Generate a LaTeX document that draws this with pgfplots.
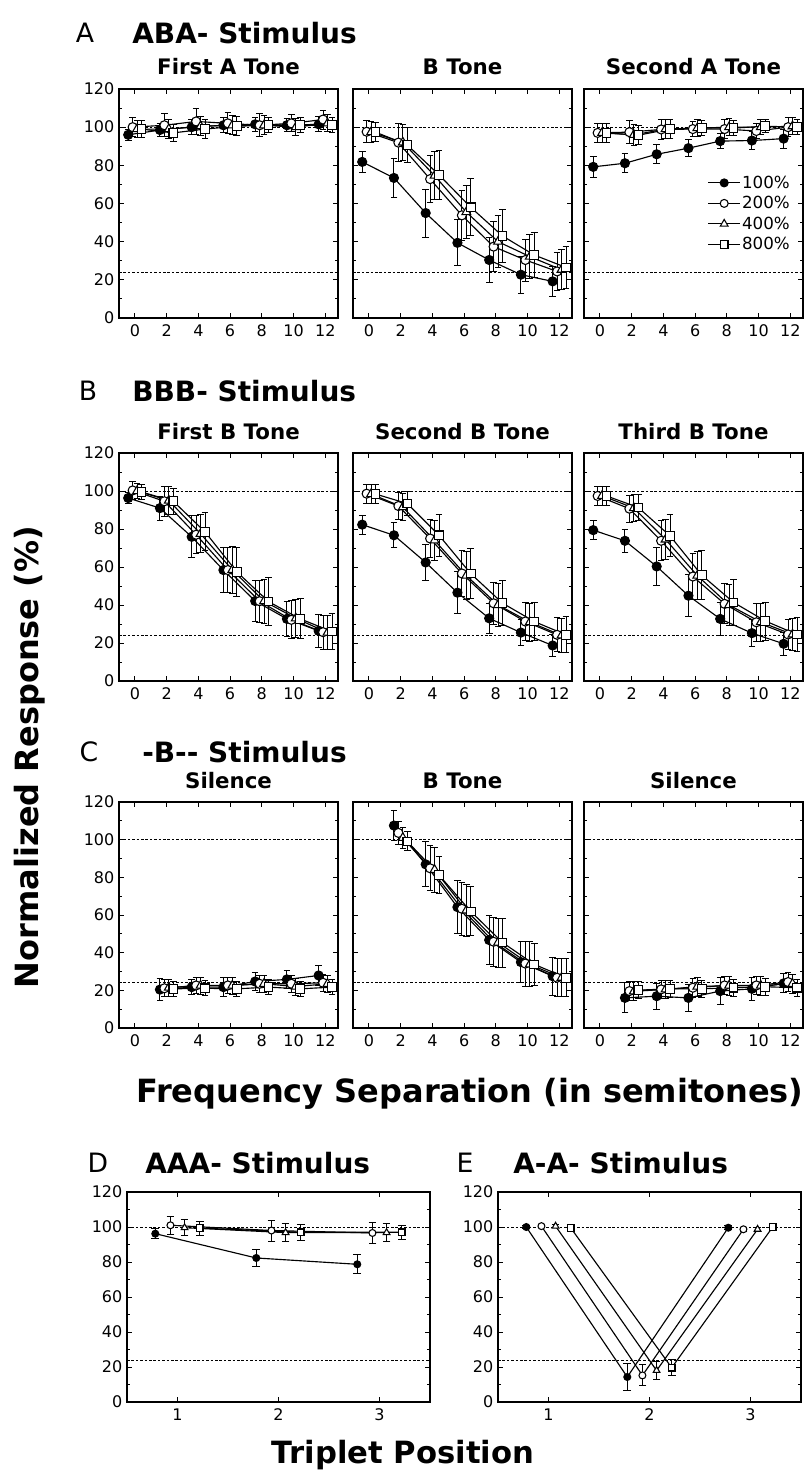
\documentclass[border=0pt]{standalone}
\usepackage{fontspec}
\setmainfont{DejaVu Sans}
\usepackage{pgfplots}
\pgfplotsset{compat=1.18}
\usepackage{pgfplotstable}

\pgfplotstableread{
x a ea b eb c ec d ed
0 96 3 100 5 99 4.5 99 4.5
2 98.5 3.5 101 6 99 5 97 4.5
4 100 4 103 7 100.5 5 99 5
6 101 4 102 5.5 101 5 100.5 5
8 101.5 3.5 101 6 101 5 101 4
10 101 3.5 102 4.5 100 4.5 101 4
12 101.5 4 104 5 102 4.5 101 4
}\tAa
\pgfplotstableread{
x a ea b eb c ec d ed
0 81.8 5.5 97.6 5.8 97.4 5.5 97.4 5
2 73.4 10 91.9 10 92 9.5 90.7 9
4 55 12.6 72.8 12.5 74.6 12.5 75 13
6 39.4 12 53.8 13 55.5 14 58 15
8 30.4 11.7 37.4 13 40 13.5 43 14
10 22.7 9.8 30.4 11 32.2 11.5 33 12
12 19.2 8 24.4 10 25.3 10.5 26.5 11
}\tAb
\pgfplotstableread{
x a ea b eb c ec d ed
0 79.2 5.5 97 5 97 5 97 5
2 81.1 5 97.4 6 96 5.5 95.8 5
4 85.8 5 98.8 5 99 5 99 5
6 89 4.5 99 4 99.5 4.5 99.5 4
8 92.7 4 99 5 100 4.5 99.5 4
10 93 4.5 98 4 100 4 100.5 3.5
12 94 5 100 5 100.5 4.5 100 4
}\tAc
\pgfplotstableread{
x a ea b eb c ec d ed
0 96.3 3 100.3 4.5 100 4 99.5 4
2 91 6.3 94.6 8 95 7.5 94.6 7
4 75.9 11 77 10 77.5 10 78.5 10
6 58.4 11.8 58.4 12 58.5 12.5 57.5 13
8 42.1 11 42 11 42 11.5 41.8 12.5
10 32.7 9 32.2 10 33 10 32.7 10.5
12 26.4 8.5 25.7 9 25.5 9 26 9.5
}\tBa
\pgfplotstableread{
x a ea b eb c ec d ed
0 82.3 5 98.6 5 98.4 5 98.4 5
2 76.7 6.5 92.1 7 91.5 7 93.4 6.5
4 62.4 9.5 75 10 74 10.5 76.7 11
6 46.5 11 56.6 12 55.5 12.5 56.5 13
8 33 8 40.9 11 40 11.5 41 12
10 25.5 7 31.3 10 31 10 31.3 10
12 18.7 6 24.3 9 24 9 24.3 9.5
}\tBb
\pgfplotstableread{
x a ea b eb c ec d ed
0 79.4 5 97.4 5 97.5 5 97.4 5
2 73.8 6 90.7 7 91 7 91.3 7
4 60.3 10 73.8 10.5 74.5 10.5 76.4 11
6 44.9 11 55 12 55.5 12.5 55.7 13
8 32.7 8.5 40.6 10.5 40 11 41.4 12
10 25.2 7 30.9 10 31 10 31.6 10
12 19.6 6 24.5 8 24.5 8.5 24.5 9
}\tBc
\pgfplotstableread{
x a ea b eb c ec d ed
2 20.4 5.8 21.1 4.5 21.5 4.5 20.8 4
4 21.7 4 22.6 4.5 22.5 4.5 21.1 4
6 21.7 5 22.6 4.5 22.5 4.5 20.8 4
8 24.7 5 23.5 4.5 23.5 4.5 21.7 4
10 25.8 5 23.5 4.5 22 4.5 20.8 4
12 27.9 5.5 24 4.5 23.5 4.5 21.7 4
}\tCa
\pgfplotstableread{
x a ea b eb c ec d ed
2 107.5 8 103.6 6 101 5.5 99.1 5
4 86.9 12 84.8 12 84 12 81.2 10
6 64.2 14 63.3 14 62.4 14 61.9 13
8 46.7 13 45.8 13 45.4 13 45.4 13
10 35 11 34.2 12 33.8 12 33.8 11
12 27.5 10 26.7 10 26.7 10 26.7 10
}\tCb
\pgfplotstableread{
x a ea b eb c ec d ed
2 16 8 19.6 5 19.5 5 20.1 4.5
4 16.9 7 20.5 5 20.5 5 20.8 4.5
6 16 7 21.4 5 22 5 20.8 4.5
8 19.6 7 22.6 5 22.5 5 21.4 4.5
10 20.8 6 22.6 5 22.5 5 21.9 4.5
12 23.7 5 24.4 5 23.5 5 21.4 4.5
}\tCc
\pgfplotstableread{
x a ea b eb c ec d ed
1 96.2 3 101 5 99.6 4.5 99.4 4
2 82.3 5 98 6 96.8 5 97 4.5
3 78.7 5.4 96.6 6 96.8 5 97 4
}\tD
\pgfplotstableread{
x a ea b eb c ec d ed
1 100 1 100.5 1 100.5 1 99.5 1
2 14.3 7.7 15.2 6 18 5 19.6 4.5
3 99.6 1 98.7 1 98.7 1 100 1
}\tE

\pgfplotsset{
  base/.style={scale only axis, ymin=0, ymax=120, ytick={0,20,...,120},
    minor y tick num=1, tick align=inside, xtick pos=both, ytick pos=both,
    major tick length=4pt, minor tick length=2.3pt,
    axis line style={line width=0.9pt},
    every tick/.style={line width=0.65pt, black},
    tick label style={font=\fontsize{12}{14}\selectfont},
    xticklabel style={yshift=-1.5pt},
    /pgf/number format/assume math mode=true},
  semi/.style={base, width=164.25pt, xmin=-1, xmax=12.8, xtick={0,2,...,12}},
  trip/.style={base, width=227.25pt, height=157.5pt, xmin=0.5, xmax=3.5, xtick={1,2,3}},
  noy/.style={yticklabels={}},
  sbase/.style={black, line width=0.85pt, solid, forget plot},
  s1/.style={sbase, mark=*, mark options={solid, fill=black, line width=0.8pt}},
  s2/.style={sbase, mark=*, mark options={solid, fill=white, line width=0.8pt}},
  s3/.style={sbase, mark=triangle*, mark options={solid, fill=white, scale=1.12, line width=0.8pt}},
  s4/.style={sbase, mark=square*, mark options={solid, fill=white, scale=0.95, line width=0.8pt}},
  eb/.style={error bars/y dir=both, error bars/y explicit,
    error bars/error bar style={line width=0.7pt, solid},
    error bars/error mark options={rotate=90, line width=0.7pt, mark size=#1}},
  legend image code/.code={\draw[mark repeat=2,mark phase=2,#1]
    plot coordinates {(0pt,0pt)(12pt,0pt)(24pt,0pt)};},
}

\newcommand{\fourser}[7]{%
  \addplot[s1, mark size=#6, eb=#7] table[x expr=\thisrow{x}+#2, y=a, y error=ea]{#1};
  \addplot[s2, mark size=#6, eb=#7] table[x expr=\thisrow{x}+#3, y=b, y error=eb]{#1};
  \addplot[s3, mark size=#6, eb=#7] table[x expr=\thisrow{x}+#4, y=c, y error=ec]{#1};
  \addplot[s4, mark size=#6, eb=#7] table[x expr=\thisrow{x}+#5, y=d, y error=ed]{#1};
}
\newcommand{\dashref}[2]{%
  \addplot[forget plot, black, line width=0.5pt, dash pattern=on 2pt off 1.3pt] coordinates {(#1,100) (#2,100)};
  \addplot[forget plot, black, line width=0.5pt, dash pattern=on 2pt off 1.3pt] coordinates {(#1,24) (#2,24)};
}
\newcommand{\semiset}[1]{\dashref{-1}{12.8}\fourser{#1}{-0.42}{-0.14}{0.14}{0.42}{3.4pt}{2.5pt}}
\newcommand{\tripset}[1]{\dashref{0.5}{3.5}\fourser{#1}{-0.22}{-0.07}{0.07}{0.22}{2.6pt}{2.9pt}}

\begin{document}
\begin{tikzpicture}
\path[use as bounding box] (0,0) rectangle (603.75pt,-1108.5pt);

% Row A
\begin{axis}[semi, height=171.75pt, at={(89.25pt,-238.5pt)}, anchor=south west]
\semiset{\tAa}
\end{axis}
\begin{axis}[semi, noy, height=171.75pt, at={(264.75pt,-238.5pt)}, anchor=south west]
\semiset{\tAb}
\end{axis}
\begin{axis}[semi, noy, height=171.75pt, at={(438pt,-238.5pt)}, anchor=south west,
  legend style={draw=none, fill=none, at={(0.545,0.64)}, anchor=north west,
    font=\fontsize{12.5}{13}\selectfont, row sep=2.6pt,
    nodes={inner sep=1pt}},
  legend cell align=left]
\semiset{\tAc}
\addlegendimage{s1, mark size=3pt}
\addlegendimage{s2, mark size=3pt}
\addlegendimage{s3, mark size=3pt}
\addlegendimage{s4, mark size=3pt}
\legend{100\%,200\%,400\%,800\%}
\end{axis}

% Row B
\begin{axis}[semi, height=171pt, at={(89.25pt,-510.75pt)}, anchor=south west]
\semiset{\tBa}
\end{axis}
\begin{axis}[semi, noy, height=171pt, at={(264.75pt,-510.75pt)}, anchor=south west]
\semiset{\tBb}
\end{axis}
\begin{axis}[semi, noy, height=171pt, at={(438pt,-510.75pt)}, anchor=south west]
\semiset{\tBc}
\end{axis}

% Row C
\begin{axis}[semi, height=169.5pt, at={(89.25pt,-771pt)}, anchor=south west]
\semiset{\tCa}
\end{axis}
\begin{axis}[semi, noy, height=169.5pt, at={(264.75pt,-771pt)}, anchor=south west]
\semiset{\tCb}
\end{axis}
\begin{axis}[semi, noy, height=169.5pt, at={(438pt,-771pt)}, anchor=south west]
\semiset{\tCc}
\end{axis}

% Row D / E
\begin{axis}[trip, at={(95.25pt,-1051.5pt)}, anchor=south west]
\tripset{\tD}
\end{axis}
\begin{axis}[trip, at={(373.5pt,-1051.5pt)}, anchor=south west]
\tripset{\tE}
\end{axis}

% Texts
\tikzset{lett/.style={inner sep=0pt, font=\fontsize{20}{22}\selectfont},
  ttl/.style={inner sep=0pt, anchor=west, font=\bfseries\fontsize{21}{23}\selectfont},
  sub/.style={inner sep=0pt, font=\bfseries\fontsize{16}{18}\selectfont},
  big/.style={inner sep=0pt, font=\bfseries\fontsize{24}{26}\selectfont}}

\node[lett] at (63.75pt,-24.75pt) {A};
\node[ttl] at (99pt,-24.75pt) {ABA- Stimulus};
\node[sub] at (171.4pt,-50.25pt) {First A Tone};
\node[sub] at (346.9pt,-50.25pt) {B Tone};
\node[sub] at (520.1pt,-50.25pt) {Second A Tone};

\node[lett] at (66pt,-293.25pt) {B};
\node[ttl] at (99pt,-293.25pt) {BBB- Stimulus};
\node[sub] at (171.4pt,-324pt) {First B Tone};
\node[sub] at (346.9pt,-324pt) {Second B Tone};
\node[sub] at (520.1pt,-324pt) {Third B Tone};

\node[lett] at (66.75pt,-564pt) {C};
\node[ttl] at (106.5pt,-564pt) {-B{-}{-} Stimulus};
\node[sub] at (171.4pt,-585.75pt) {Silence};
\node[sub] at (346.9pt,-585.75pt) {B Tone};
\node[sub] at (520.1pt,-585.75pt) {Silence};

\node[big] at (352.5pt,-820.5pt) {Frequency Separation (in semitones)};

\node[lett] at (73.5pt,-872.25pt) {D};
\node[ttl] at (108.75pt,-872.25pt) {AAA- Stimulus};
\node[lett] at (348.75pt,-872.25pt) {E};
\node[ttl] at (384.75pt,-872.25pt) {A-A- Stimulus};

\node[big, font=\bfseries\fontsize{23}{25}\selectfont] at (302.25pt,-1091.25pt) {Triplet Position};
\node[big, rotate=90] at (22.5pt,-567.75pt) {Normalized Response (\%)};
\end{tikzpicture}
\end{document}
